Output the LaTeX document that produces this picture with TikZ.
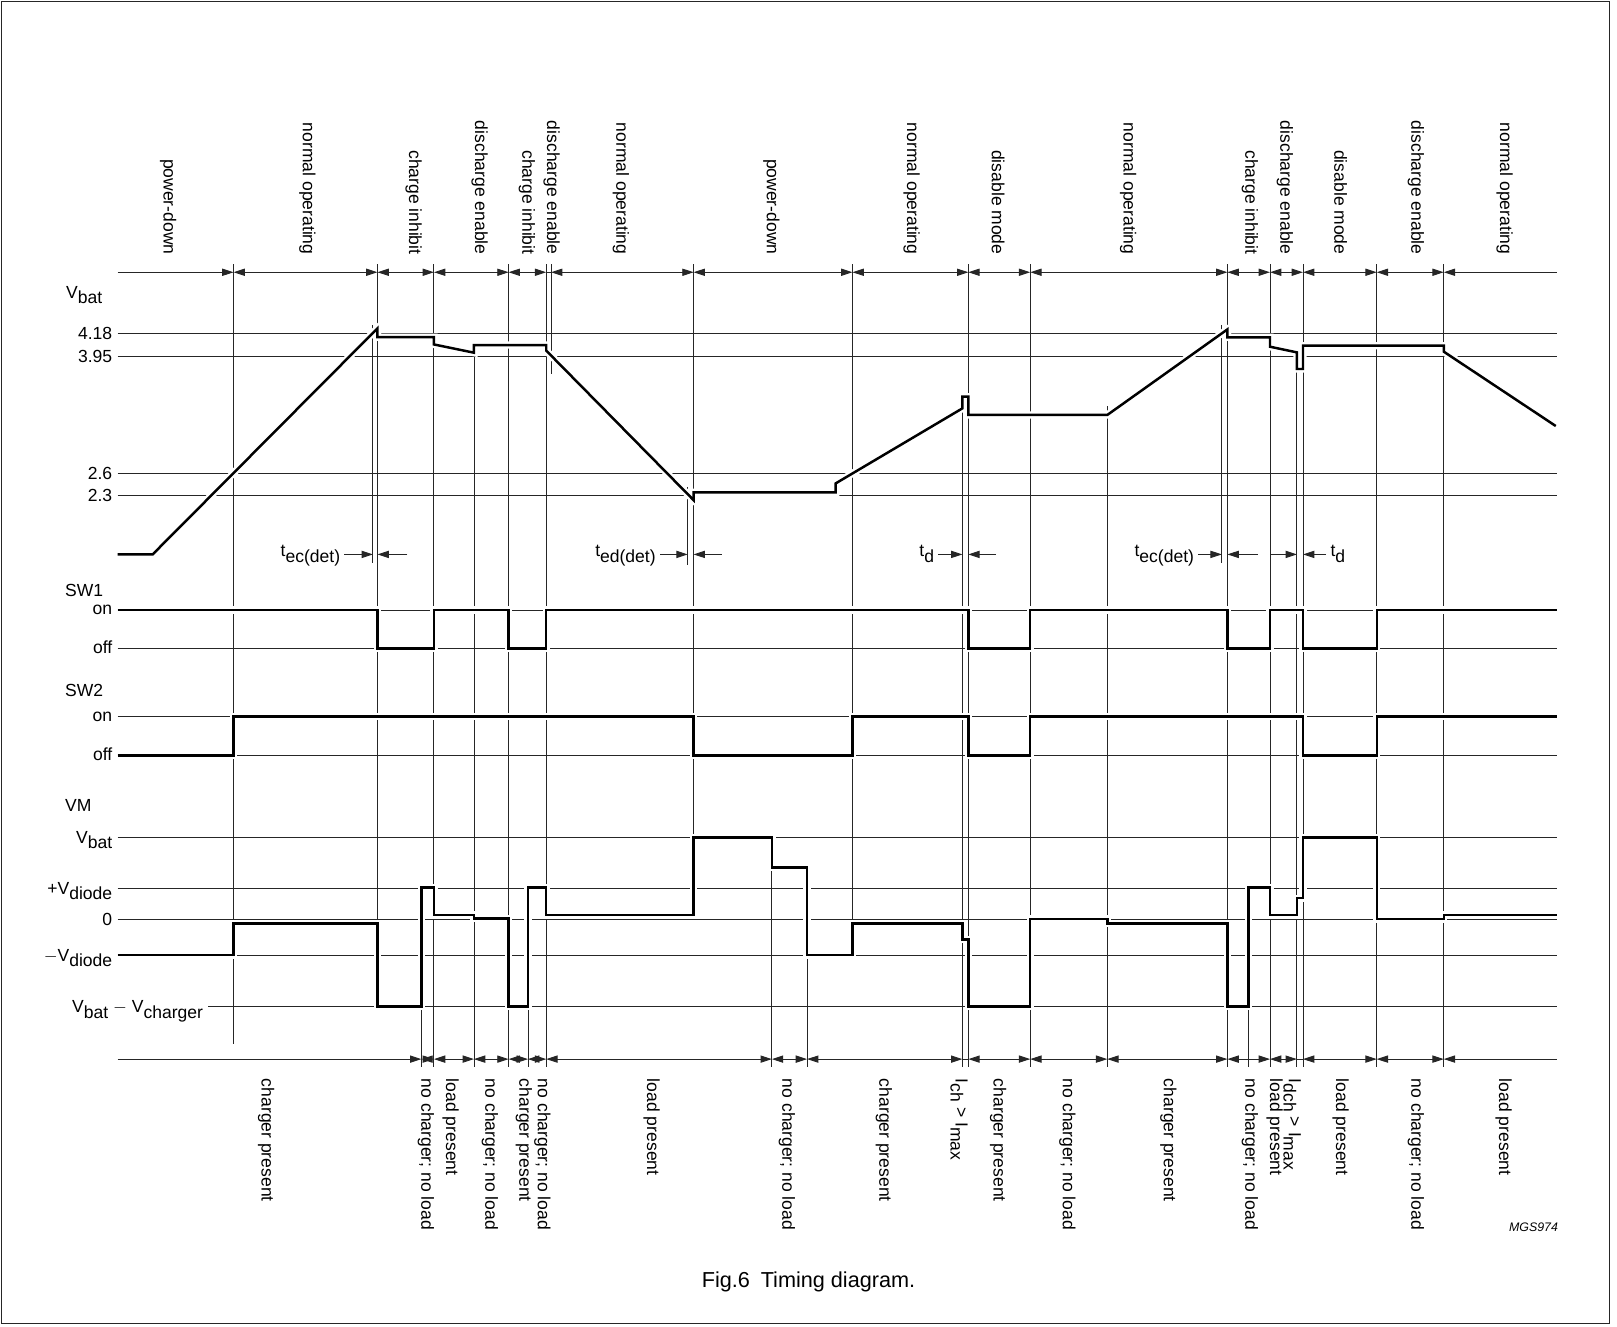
\documentclass[tikz,border=0pt]{standalone}
\usepackage{fontspec}
\setmainfont{Liberation Sans}
\usetikzlibrary{arrows.meta}
\newcommand{\lowsub}[1]{\raisebox{-5pt}{#1}}

\begin{document}
\begin{tikzpicture}[x=1pt, y=-1pt,
    every node/.style={font=\fontsize{17}{20}\selectfont, inner sep=1pt},
    gridline/.style={black!85, line width=0.9pt},
    wave/.style={line width=2.4pt, line join=miter, preaction={draw=white, line width=7pt}},
    span/.style={gridline, {Triangle[length=11pt,width=7pt]}-{Triangle[length=11pt,width=7pt]}},
    toright/.style={gridline, -{Triangle[length=11pt,width=7pt]}},
    toleft/.style={gridline, {Triangle[length=11pt,width=7pt]}-},
    toplabel/.style={rotate=-90, anchor=east},
    botlabel/.style={rotate=-90, anchor=west},
    axislabel/.style={anchor=base east},
    sigtitle/.style={anchor=base west}]
    \useasboundingbox (0,0) rectangle (1568,1286);

    % Frame
    \draw[gridline] (1,1) rectangle (1561,1283);

    % Level lines
    \foreach \y in {323.2,345.9,459,480.7,591.6,628.7,695,732.8,812,861.4,891.2,926.1}
        \draw[gridline] (114,\y) -- (1510,\y);
    \draw[gridline] (202,976.2) -- (1510,976.2);

    % Event lines
    \foreach \x/\ya/\yb in {226.5/256/1012, 361.6/315/546, 366/256/892, 408.6/976/1035,
        420.8/256/1035, 459.6/342/1035, 493.2/256/1035, 512/976/1035, 529.7/256/1035,
        534.4/256/363, 666.9/472/548, 672.6/256/887, 748.5/841/1035, 782.6/926/1035,
        826.6/256/891, 933.2/396/1035, 939/256/1035, 999/256/1035, 1073.7/394/1035,
        1184.8/315/546, 1190.2/256/1035, 1210.6/976/1035, 1231.5/256/1035,
        1257.6/342/1035, 1263.5/256/1035, 1335/256/1035, 1400/256/1035}
        \draw[gridline] (\x,\ya) -- (\x,\yb);

    % Mode spans (top)
    \draw[toright] (114,264) -- (226.5,264);
    \foreach \a/\b in {226.5/366, 366/420.8, 420.8/493.2, 493.2/529.7, 534.4/672.6,
        672.6/826.6, 826.6/939, 939/999, 999/1190.2, 1190.2/1231.5, 1231.5/1263.5,
        1263.5/1335, 1335/1400}
        \draw[span] (\a,264) -- (\b,264);
    \draw[gridline] (529.7,264) -- (534.4,264);
    \draw[toleft] (1400,264) -- (1510,264);

    % Condition spans (bottom)
    \draw[toright] (114,1027) -- (408.6,1027);
    \foreach \a/\b in {408.6/420.8, 420.8/459.6, 459.6/493.2, 493.2/512, 512/529.7,
        529.7/748.5, 748.5/782.6, 782.6/933.2, 939/999, 999/1073.7, 1073.7/1190.2,
        1190.2/1231.5, 1231.5/1257.6, 1263.5/1335, 1335/1400}
        \draw[span] (\a,1027) -- (\b,1027);
    \draw[gridline] (933.2,1027) -- (939,1027);
    \draw[gridline] (1257.6,1027) -- (1263.5,1027);
    \draw[toleft] (1400,1027) -- (1510,1027);

    % Vbat
    \draw[wave] (114,537.6) -- (148,537.6) -- (366,318.4) -- (366,327) -- (420.8,327)
        -- (420.8,334) -- (459.6,342) -- (459.6,334.6) -- (529.7,334.6) -- (529.7,340)
        -- (672.6,485) -- (672.6,477.4) -- (810.4,477.4) -- (810.4,468.7) -- (933.2,396)
        -- (933.2,384.7) -- (939,384.7) -- (939,402.4) -- (1073.7,402.4) -- (1190.2,319.4)
        -- (1190.2,327.1) -- (1231.5,327.1) -- (1231.5,336.2) -- (1257.6,341.7)
        -- (1257.6,357.8) -- (1263.5,357.8) -- (1263.5,335.2) -- (1400,335.2)
        -- (1400,341) -- (1508.6,413.1);

    % SW1
    \draw[wave] (114,591.6) -- (366,591.6) -- (366,628.7) -- (420.8,628.7) -- (420.8,591.6)
        -- (493.2,591.6) -- (493.2,628.7) -- (529.7,628.7) -- (529.7,591.6) -- (939,591.6)
        -- (939,628.7) -- (999,628.7) -- (999,591.6) -- (1190.2,591.6) -- (1190.2,628.7)
        -- (1231.5,628.7) -- (1231.5,591.6) -- (1263.5,591.6) -- (1263.5,628.7)
        -- (1335,628.7) -- (1335,591.6) -- (1510,591.6);

    % SW2
    \draw[wave] (114,732.8) -- (226.5,732.8) -- (226.5,695) -- (672.6,695) -- (672.6,732.8)
        -- (826.6,732.8) -- (826.6,695) -- (939,695) -- (939,732.8) -- (999,732.8)
        -- (999,695) -- (1263.5,695) -- (1263.5,732.8) -- (1335,732.8) -- (1335,695)
        -- (1510,695);

    % VM
    \draw[wave] (114,926.1) -- (226.5,926.1) -- (226.5,895.4) -- (366,895.4) -- (366,976.2)
        -- (408.6,976.2) -- (408.6,860.5) -- (420.8,860.5) -- (420.8,887.3) -- (459.6,887.3)
        -- (459.6,890.5) -- (493.2,890.5) -- (493.2,976.2) -- (512,976.2) -- (512,860.5)
        -- (529.7,860.5) -- (529.7,887.3) -- (672.6,887.3) -- (672.6,812) -- (748.5,812)
        -- (748.5,841) -- (782.6,841) -- (782.6,926.1) -- (826.6,926.1) -- (826.6,895.4)
        -- (933.2,895.4) -- (933.2,910.9) -- (939,910.9) -- (939,976.2) -- (999,976.2)
        -- (999,891.2) -- (1073.7,891.2) -- (1073.7,895.4) -- (1190.2,895.4)
        -- (1190.2,976.2) -- (1210.6,976.2) -- (1210.6,860.5) -- (1231.5,860.5)
        -- (1231.5,887.3) -- (1257.6,887.3) -- (1257.6,871) -- (1263.5,871) -- (1263.5,812)
        -- (1335,812) -- (1335,891.2) -- (1400,891.2) -- (1400,887.3) -- (1510,887.3);

    % Delay markers
    \draw[toright] (334,537.6) -- (361.6,537.6);
    \draw[toright] (395,537.6) -- (366,537.6);
    \draw[toright] (640,537.6) -- (666.9,537.6);
    \draw[toright] (700,537.6) -- (672.6,537.6);
    \draw[toright] (910,537.6) -- (933.2,537.6);
    \draw[toright] (966,537.6) -- (939,537.6);
    \draw[toright] (1162,537.6) -- (1184.8,537.6);
    \draw[toright] (1220,537.6) -- (1190.2,537.6);
    \draw[toright] (1231.5,537.6) -- (1257.6,537.6);
    \draw[toright] (1286,537.6) -- (1263.5,537.6);
    \node[axislabel] (tec1) at (331,540) {t\lowsub{ec(det)}};
    \node[axislabel] (ted) at (637,540) {t\lowsub{ed(det)}};
    \node[axislabel] (td1) at (907,540) {t\lowsub{d}};
    \node[axislabel] (tec2) at (1159,540) {t\lowsub{ec(det)}};
    \node[anchor=base west] (td2) at (1289,540) {t\lowsub{d}};

    % Signal names and levels
    \node[sigtitle] (vbatname) at (63,289) {V\lowsub{bat}};
    \node[sigtitle] (swa) at (62,578) {SW1};
    \node[sigtitle] (swb) at (62,675) {SW2};
    \node[sigtitle] (vmname) at (62,787) {VM};
    \foreach \y/\t [count=\i] in {323.2/4.18, 345.9/3.95, 459/2.6, 480.7/2.3,
        812/V\lowsub{bat}, 861.4/{+V\lowsub{diode}}, 891.2/0, 926.1/{$-$V\lowsub{diode}}}
        \node[axislabel] (lev\i) at (110,\y+6) {\t};
    \node[axislabel] (lev9) at (198,982.2) {V\lowsub{bat} $-$ V\lowsub{charger}};
    \foreach \y/\t [count=\i] in {591.6/on, 628.7/off, 695/on, 732.8/off}
        \node[axislabel] (sw\i) at (110,\y+4.5) {\t};

    % Mode names (top)
    \foreach \x/\t [count=\i] in {163/power-down, 298/normal operating, 401/charge inhibit,
        465/discharge enable, 511/charge inhibit, 535/discharge enable,
        602/normal operating, 748/power-down, 884/normal operating, 968/disable mode,
        1094/normal operating, 1212/charge inhibit, 1246/discharge enable,
        1300/disable mode, 1373/discharge enable, 1459/normal operating}
        \node[toplabel] (mode\i) at (\x,248) {\t};

    % Conditions (bottom)
    \foreach \x/\t [count=\i] in {258/charger present, 413/{no charger; no load},
        437/load present, 475/{no charger; no load}, 508/charger present,
        526/{no charger; no load}, 632/load present, 763/{no charger; no load},
        857/charger present, 930/{I\lowsub{ch} > I\lowsub{max}}, 968/charger present,
        1035/{no charger; no load}, 1133/charger present, 1212/{no charger; no load},
        1236/load present, 1253/{I\lowsub{dch} > I\lowsub{max}}, 1300/load present,
        1373/{no charger; no load}, 1458/load present}
        \node[botlabel] (cond\i) at (\x,1045) {\t};

    % Caption
    \node[font=\fontsize{12}{14}\selectfont\itshape] (code) at (1487,1190) {MGS974};
    \node[font=\fontsize{21}{24}\selectfont] (caption) at (784,1243) {Fig.6\enspace Timing diagram.};

\end{tikzpicture}
\end{document}
